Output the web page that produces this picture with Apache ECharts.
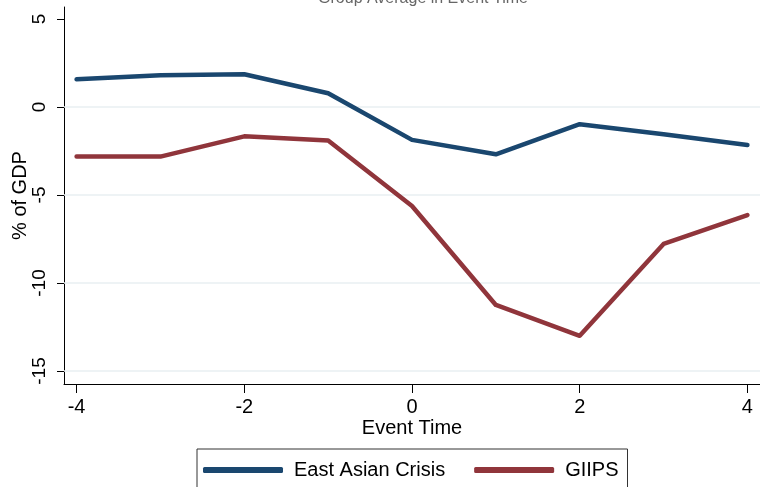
<!DOCTYPE html>
<html>
<head>
<meta charset="utf-8">
<script src="https://cdn.jsdelivr.net/npm/echarts@6/dist/echarts.min.js"></script>
<style>html,body{margin:0;padding:0;background:#fff}#c{width:760px;height:487px}</style>
</head>
<body>
<div id="c"></div>
<script>
var eventTime = [-4, -3, -2, -1, 0, 1, 2, 3, 4];
var eastAsian = [1.57, 1.80, 1.86, 0.78, -1.87, -2.69, -0.98, -1.55, -2.16];
var giips = [-2.82, -2.82, -1.67, -1.90, -5.63, -11.25, -13.0, -7.78, -6.14];
var yTicks = [-15, -10, -5, 0, 5];
var xTicks = [-4, -2, 0, 2, 4];
var gridValues = [0, -5, -10, -15];

function pairs(xs, ys) { return xs.map(function (x, i) { return [x, ys[i]]; }); }

var chart = echarts.init(document.getElementById('c'), null, { renderer: 'canvas' });
var font = 'Liberation Sans, Arial, sans-serif';
chart.setOption({
  animation: false,
  title: {
    text: 'Group Average in Event Time',
    left: 418, textAlign: 'center', top: -14,
    textStyle: { fontFamily: font, fontSize: 16, fontWeight: 'normal', color: '#666' }
  },
  grid: { left: 64, top: 7, right: 0, bottom: 103, containLabel: false, outerBoundsMode: 'none' },
  xAxis: {
    type: 'value', min: -4.15, max: 4.15,
    name: 'Event Time', nameLocation: 'middle', nameGap: 34, nameMoveOverlap: false,
    nameTextStyle: { fontFamily: font, fontSize: 20, color: '#000' },
    axisLine: { show: true, onZero: false, lineStyle: { color: '#000', width: 1 } },
    axisTick: { show: true, length: 9, customValues: xTicks, lineStyle: { color: '#000' } },
    axisLabel: { customValues: xTicks, fontFamily: font, fontSize: 20, color: '#000', margin: 13 },
    splitLine: { show: false }
  },
  yAxis: {
    type: 'value', min: -15.74, max: 5.68,
    name: '% of GDP', nameLocation: 'middle', nameGap: 34, nameRotate: 90, nameMoveOverlap: false,
    nameTextStyle: { fontFamily: font, fontSize: 20, color: '#000' },
    axisLine: { show: true, onZero: false, lineStyle: { color: '#000', width: 1 } },
    axisTick: { show: true, length: 7, customValues: yTicks, lineStyle: { color: '#000' } },
    axisLabel: { customValues: yTicks, rotate: 90, fontFamily: font, fontSize: 19, color: '#000', margin: 15 },
    splitLine: { show: false }
  },
  legend: {
    top: 449, left: 197,
    padding: [11, 9, 40, 6],
    itemGap: 29,
    itemWidth: 80, itemHeight: 6,
    borderColor: '#333', borderWidth: 1,
    textStyle: { fontFamily: font, fontSize: 20, color: '#000', padding: [0, 0, 0, 6] },
    data: [
      { name: 'East Asian Crisis', icon: 'roundRect' },
      { name: 'GIIPS', icon: 'roundRect' }
    ]
  },
  series: [
    {
      name: 'East Asian Crisis', type: 'line', data: pairs(eventTime, eastAsian),
      showSymbol: false, symbol: 'none', z: 3,
      lineStyle: { color: '#1a476f', width: 4.5, cap: 'round', join: 'round' },
      itemStyle: { color: '#1a476f' },
      markLine: {
        silent: true, symbol: 'none', label: { show: false }, z: 1,
        lineStyle: { color: '#e8eff2', width: 1.5, type: 'solid' },
        data: gridValues.map(function (v) { return { yAxis: v }; })
      }
    },
    {
      name: 'GIIPS', type: 'line', data: pairs(eventTime, giips),
      showSymbol: false, symbol: 'none', z: 3,
      lineStyle: { color: '#90353b', width: 4.5, cap: 'round', join: 'round' },
      itemStyle: { color: '#90353b' }
    }
  ]
});
</script>
</body>
</html>
